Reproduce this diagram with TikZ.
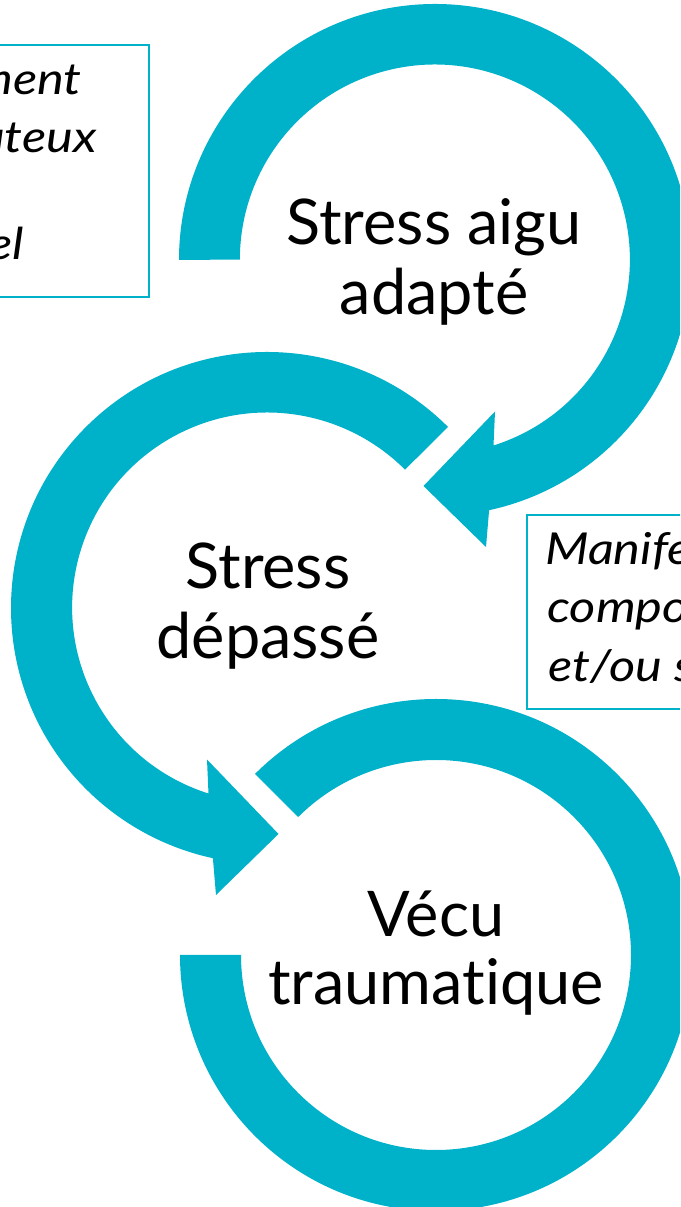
\documentclass[tikz,border=0pt]{standalone}
\usepackage{fontspec}
\setmainfont{Lato}[Ligatures={NoCommon,NoRequired}]
\newfontfamily\notefont{Lato}[FakeStretch=1.15,Ligatures={NoCommon,NoRequired}]
\definecolor{tealband}{HTML}{00B1CA}
\begin{document}
\begin{tikzpicture}[x=1pt,y=1pt,
  band/.style={fill=tealband, draw=none},
  bigtext/.style={font=\fontsize{63}{70}\selectfont, text=black, inner sep=0pt, anchor=base},
  notebox/.style={draw=tealband, line width=1.5pt, fill=white},
  notetext/.style={font=\notefont\itshape\fontsize{44}{55}\selectfont, text=black, inner sep=0pt}]
\useasboundingbox (0,0) rectangle (680,1207);
\clip (0,0) rectangle (680,1207);
\fill[white] (0,0) rectangle (680,1207);

% top circular arrow (clockwise)
\begin{scope}[shift={(435,947)}]
\fill[band] (180:256) arc[start angle=180,end angle=-77.8,radius=256]
  -- (51,-287) -- (-11.5,-226) -- (60,-151.5) -- (58.5,-185.5)
  arc[start angle=-72.5,end angle=180,radius=195] -- cycle;
\end{scope}

% middle circular arrow (counterclockwise)
\begin{scope}[shift={(267,599)}]
\fill[band] (45:256) arc[start angle=45,end angle=257.8,radius=256]
  -- (-51,-287) -- (11.5,-226) -- (-60,-151.5) -- (-58.5,-185.5)
  arc[start angle=252.5,end angle=45,radius=195] -- cycle;
\end{scope}

% bottom arc
\begin{scope}[shift={(436,252)}]
\fill[band] (135:256) arc[start angle=135,end angle=-180,radius=256]
  -- (-195,0) arc[start angle=-180,end angle=135,radius=195] -- cycle;
\end{scope}

% labels
\node[bigtext] (t1) at (434,962) {Stress aigu};
\node[bigtext] (t2) at (434,892) {adapté};
\node[bigtext] (m1) at (268,618) {Stress};
\node[bigtext] (m2) at (268,548) {dépassé};
\node[bigtext] (b1) at (436,270) {Vécu};
\node[bigtext] (b2) at (436,202) {traumatique};

% left note box
\draw[notebox] (-400,910) rectangle (149,1162);
\node[notetext, anchor=base east] (l1) at (82,1112) {ment};
\node[notetext, anchor=base east] (l2) at (97,1054) {uteux};
\node[notetext, anchor=base east] (l4) at (24,947) {el};

% right note box
\draw[notebox] (527,498) rectangle (900,692);
\node[notetext, anchor=base west] (r1) at (545,642) {Manifes};
\node[notetext, anchor=base west] (r2) at (547,584) {compor};
\node[notetext, anchor=base west] (r3) at (548,525) {et/ou s};
\end{tikzpicture}
\end{document}
